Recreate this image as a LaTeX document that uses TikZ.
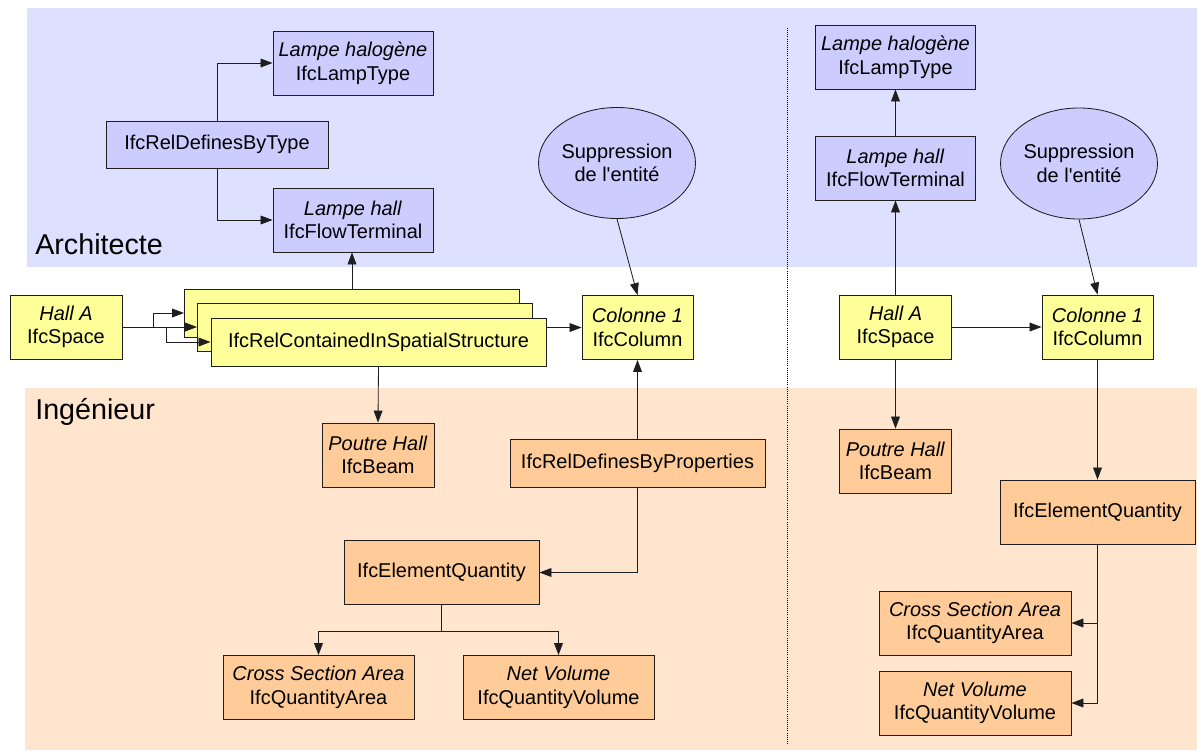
\documentclass[tikz,border=0pt]{standalone}
\usepackage{fontspec}
\setmainfont{Liberation Sans}
\usetikzlibrary{arrows.meta,shapes.geometric}
\definecolor{ArchiBand}{RGB}{221,225,255}
\definecolor{ArchiBox}{RGB}{204,204,255}
\definecolor{IngeBand}{RGB}{255,228,206}
\definecolor{IngeBox}{RGB}{255,204,153}
\definecolor{SharedBox}{RGB}{255,255,153}
\definecolor{EdgeGray}{RGB}{30,30,30}

\begin{document}
\begin{tikzpicture}[x=0.025cm, y=-0.025cm,
    box/.style={draw=EdgeGray, line width=0.6pt, align=center, inner sep=0pt,
                font=\fontsize{14.2}{16.8}\selectfont},
    archi/.style={box, fill=ArchiBox},
    inge/.style={box, fill=IngeBox},
    shared/.style={box, fill=SharedBox},
    link/.style={-{Triangle[length=0.3cm,width=0.22cm]}, line width=0.6pt, EdgeGray},
    band/.style={font=\fontsize{20.4}{24}\selectfont, anchor=base west, inner sep=0pt}]
        \useasboundingbox (0,0) rectangle (1197,752);
        \fill[ArchiBand] (27,8) rectangle (1197,267);
        \fill[IngeBand] (25,388) rectangle (1197,750);
        \draw[densely dotted, line width=0.5pt] (787,28) -- (787,744);
        \node[band] (Archi) at (35,254) {Architecte};
        \node[band] (Inge) at (35,419) {Ingénieur};
        % avant
        \node[archi, minimum width=4cm, minimum height=1.6cm] (Halo) at (353,63) {\textit{Lampe halogène}\\IfcLampType};
        \node[archi, minimum width=5.55cm, minimum height=1.175cm] (DefType) at (217,144.5) {IfcRelDefinesByType};
        \node[archi, minimum width=4cm, minimum height=1.6cm] (Lampe) at (353,220) {\textit{Lampe hall}\\IfcFlowTerminal};
        \node[archi, shape=ellipse, minimum width=3.575cm, minimum height=2.775cm] (Suppr) at (617,163) {Suppression\\de l\textquotesingle entité};
        \node[shared, minimum width=2.8cm, minimum height=1.6cm] (Hall) at (66,327) {\textit{Hall A}\\IfcSpace};
        \foreach \i/\x/\y in {1/352/313, 2/365/327} {
            \node[shared, minimum width=8.375cm, minimum height=1.2cm] (Cont\i) at (\x,\y) {};
        }
        \node[shared, minimum width=8.375cm, minimum height=1.2cm] (Cont3) at (378.5,342) {IfcRelContainedInSpatialStructure};
        \node[shared, minimum width=2.775cm, minimum height=1.6cm] (Col) at (637.5,327.5) {\textit{Colonne 1}\\IfcColumn};
        \node[inge, minimum width=2.8cm, minimum height=1.6cm] (Beam) at (378,455) {\textit{Poutre Hall}\\IfcBeam};
        \node[inge, minimum width=6.375cm, minimum height=1.2cm] (DefProp) at (637.5,463) {IfcRelDefinesByProperties};
        \node[inge, minimum width=4.875cm, minimum height=1.6cm] (Quant) at (441.5,572.5) {IfcElementQuantity};
        \node[inge, minimum width=4.775cm, minimum height=1.6cm] (Area) at (318.5,687.5) {\textit{Cross Section Area}\\IfcQuantityArea};
        \node[inge, minimum width=4.775cm, minimum height=1.6cm] (Vol) at (558.5,687.5) {\textit{Net Volume}\\IfcQuantityVolume};
        \draw[link] (DefType.north) |- (Halo.west);
        \draw[link] (DefType.south) |- (Lampe.west);
        \draw[link] (Cont1.north) -- (Cont1.north |- Lampe.south);
        \draw[link] (Hall.east) -- (Cont2.west);
        \draw[link] (Hall.east) -- ++(31,0) |- (Cont1.west);
        \draw[link] (Hall.east) -- ++(44,0) |- (Cont3.west);
        \draw[link] (Cont3.east |- Col.west) -- (Col.west);
        \draw[link] (Cont3.south) -- (Beam.north);
        \draw[link] (Suppr.south) -- (Col.north);
        \draw[link] (DefProp.north) -- (Col.south);
        \draw[link] (DefProp.south) |- (Quant.east);
        \draw[link] (Quant.south) -- ++(0,26) -| (Area.north);
        \draw[link] (Quant.south) -- ++(0,26) -| (Vol.north);
        % apres
        \node[archi, minimum width=4cm, minimum height=1.6cm] (R_Halo) at (895.5,57) {\textit{Lampe halogène}\\IfcLampType};
        \node[archi, minimum width=4cm, minimum height=1.6cm] (R_Lampe) at (895.5,168) {\textit{Lampe hall}\\IfcFlowTerminal};
        \node[archi, shape=ellipse, minimum width=3.575cm, minimum height=2.775cm] (R_Suppr) at (1079,163.5) {Suppression\\de l\textquotesingle entité};
        \node[shared, minimum width=2.8cm, minimum height=1.6cm] (R_Hall) at (895.5,327) {\textit{Hall A}\\IfcSpace};
        \node[shared, minimum width=2.775cm, minimum height=1.6cm] (R_Col) at (1097.5,327) {\textit{Colonne 1}\\IfcColumn};
        \node[inge, minimum width=2.8cm, minimum height=1.6cm] (R_Beam) at (895.5,461) {\textit{Poutre Hall}\\IfcBeam};
        \node[inge, minimum width=4.875cm, minimum height=1.6cm] (R_Quant) at (1097.5,512) {IfcElementQuantity};
        \node[inge, minimum width=4.8cm, minimum height=1.6cm] (R_Area) at (975,623) {\textit{Cross Section Area}\\IfcQuantityArea};
        \node[inge, minimum width=4.8cm, minimum height=1.6cm] (R_Vol) at (975,703) {\textit{Net Volume}\\IfcQuantityVolume};
        \draw[link] (R_Lampe.north) -- (R_Halo.south);
        \draw[link] (R_Hall.north) -- (R_Lampe.south);
        \draw[link] (R_Hall.east) -- (R_Col.west);
        \draw[link] (R_Suppr.south) -- (R_Col.north);
        \draw[link] (R_Hall.south) -- (R_Beam.north);
        \draw[link] (R_Col.south) -- (R_Quant.north);
        \draw[link] (R_Quant.south) |- (R_Area.east);
        \draw[link] (R_Quant.south) |- (R_Vol.east);
    \end{tikzpicture}
\end{document}
